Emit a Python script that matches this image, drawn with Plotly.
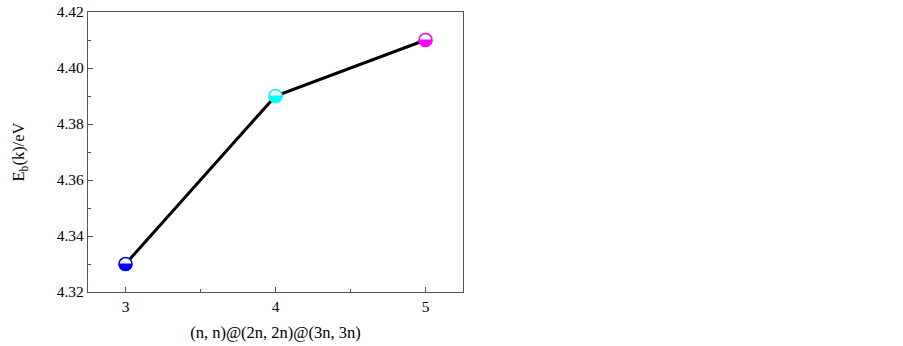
import numpy as np
import plotly.graph_objects as go

n_values = [3, 4, 5]
eb_values = [4.33, 4.39, 4.41]
marker_colors = ["#0000ff", "#00ffff", "#ff00ff"]
x_ticks = [3, 4, 5]
y_ticks = [4.32, 4.34, 4.36, 4.38, 4.40, 4.42]
y_tick_labels = ["4.32", "4.34", "4.36", "4.38", "4.40", "4.42"]

FONT = "Liberation Serif, Times New Roman, serif"
R = 6.5

fig = go.Figure()
fig.add_trace(go.Scatter(x=n_values, y=eb_values, mode="lines",
                         line=dict(color="black", width=3), showlegend=False,
                         hoverinfo="skip"))

# half-filled circle markers built as pixel-sized shapes anchored on the data
ang = np.linspace(np.pi, 2 * np.pi, 25)
half = "M " + " L ".join(f"{R*np.cos(a):.2f},{R*np.sin(a):.2f}" for a in ang) + " Z"
for xv, yv, c in zip(n_values, eb_values, marker_colors):
    fig.add_shape(type="circle", xref="x", yref="y", xsizemode="pixel", ysizemode="pixel",
                  xanchor=xv, yanchor=yv, x0=-R, x1=R, y0=-R, y1=R,
                  fillcolor="white", line=dict(color=c, width=1.5), layer="above")
    fig.add_shape(type="path", xref="x", yref="y", xsizemode="pixel", ysizemode="pixel",
                  xanchor=xv, yanchor=yv, path=half,
                  fillcolor=c, line=dict(color=c, width=1), layer="above")

axis_common = dict(showline=True, linecolor="#555555", linewidth=1.3, mirror=True,
                   ticks="inside", ticklen=5, tickwidth=1.2, tickcolor="#555555",
                   showgrid=False, zeroline=False, automargin=False,
                   tickfont=dict(family=FONT, size=15.5, color="black"))

fig.update_xaxes(range=[2.75, 5.25], tickvals=x_ticks,
                 minor=dict(ticks="inside", ticklen=3, tickwidth=1.2, tickcolor="#555555", dtick=0.5, tick0=0),
                 title=dict(text="(n, n)@(2n, 2n)@(3n, 3n)", font=dict(family=FONT, size=16.5, color="black"), standoff=12),
                 **axis_common)
fig.update_yaxes(range=[4.32, 4.42], tickvals=y_ticks, ticktext=y_tick_labels,
                 minor=dict(ticks="inside", ticklen=3, tickwidth=1.2, tickcolor="#555555", dtick=0.01, tick0=4.32),
                 title=dict(text="E<sub>b</sub>(k)/eV", font=dict(family=FONT, size=16.5, color="black"), standoff=27),
                 **axis_common)

fig.update_layout(width=903, height=346, margin=dict(l=88, r=440, t=12, b=54),
                  plot_bgcolor="white", paper_bgcolor="white", hovermode=False)

fig.write_html("out.html", config={"displayModeBar": False},
               post_script="document.body.style.margin='0';")
